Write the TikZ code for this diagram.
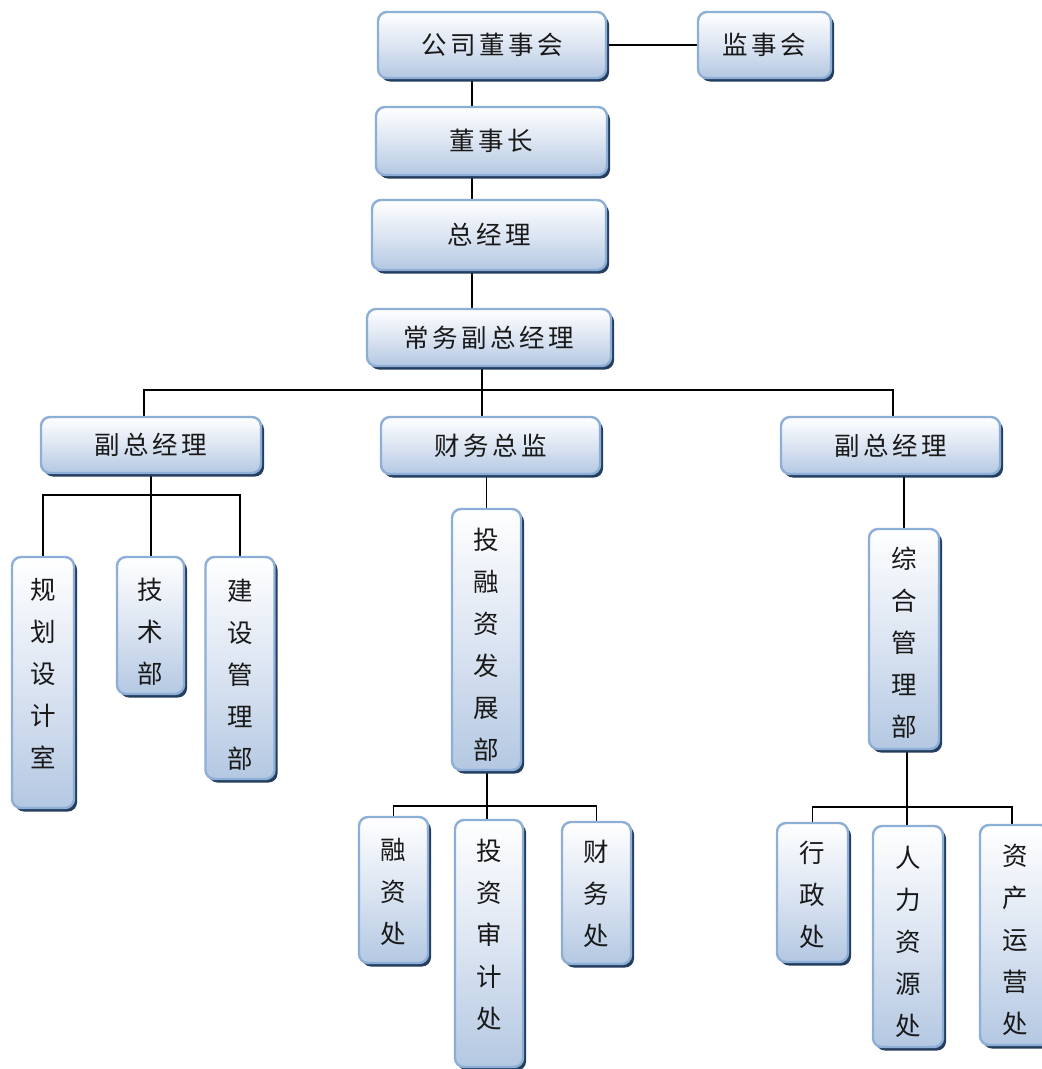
\documentclass[tikz,border=0pt]{standalone}
\usepackage{fontspec}
\setmainfont{Noto Sans CJK SC}
\usetikzlibrary{shadows}
\pgfdeclarelayer{background}
\pgfsetlayers{background,main}

\definecolor{boxedge}{RGB}{141,174,215}
\definecolor{boxlow}{RGB}{180,200,226}
\definecolor{boxmid}{RGB}{220,229,242}
\definecolor{boxshade}{RGB}{36,62,95}
\definecolor{inkc}{RGB}{25,25,25}

% spaced characters for horizontal labels
\newcommand\gp{\hspace{3.5pt}}
% vertical label; the optional length moves the characters up (negative: down)
% while the box keeps its natural extent, so the node stays centred
\newcommand\vlab[2][0pt]{\raisebox{#1}[\height][\depth]{\begin{tabular}{@{}c@{}}#2\end{tabular}}}

\tikzset{
  orgbox/.style={
    draw=boxedge, line width=2.4pt, rounded corners=9pt,
    top color=white, bottom color=boxlow, middle color=boxmid,
    drop shadow={shadow xshift=3pt, shadow yshift=-3.5pt, fill=boxshade, opacity=1},
    inner sep=0pt, text=inkc, align=center,
    font=\fontsize{25.5}{42}\selectfont
  },
  link/.style={line width=1.7pt, black}
}

\begin{document}
\begin{tikzpicture}[x=1pt, y=-1pt]
\useasboundingbox (0,0) rectangle (1042,1069);

% upper chain
\node[orgbox, minimum width=228pt, minimum height=66pt] (board) at (492,45) {公\gp 司\gp 董\gp 事\gp 会};
\node[orgbox, minimum width=133pt, minimum height=66pt] (super) at (764.5,45) {监\gp 事\gp 会};
\node[orgbox, minimum width=231pt, minimum height=68pt] (chair) at (491.5,141) {董\gp 事\gp 长};
\node[orgbox, minimum width=234pt, minimum height=70pt] (gm) at (489,235) {总\gp 经\gp 理};
\node[orgbox, minimum width=244pt, minimum height=57pt] (exec) at (489,337.5) {常\gp 务\gp 副\gp 总\gp 经\gp 理};

% second level
\node[orgbox, minimum width=220pt, minimum height=56pt] (vpl) at (151,445) {副\gp 总\gp 经\gp 理};
\node[orgbox, minimum width=219pt, minimum height=57pt] (cfo) at (490.5,445.5) {财\gp 务\gp 总\gp 监};
\node[orgbox, minimum width=219pt, minimum height=57pt] (vpr) at (890.5,445.5) {副\gp 总\gp 经\gp 理};

% departments
\node[orgbox, minimum width=62pt, minimum height=251pt] (plan) at (43,682.5) {\vlab[7pt]{规\\划\\设\\计\\室}};
\node[orgbox, minimum width=67pt, minimum height=137pt] (tech) at (150.5,625.5) {\vlab[-8pt]{技\\术\\部}};
\node[orgbox, minimum width=69pt, minimum height=222pt] (build) at (240,668) {\vlab[-8pt]{建\\设\\管\\理\\部}};
\node[orgbox, minimum width=69pt, minimum height=261pt] (invdev) at (486.5,639.5) {\vlab[-7pt]{投\\融\\资\\发\\展\\部}};
\node[orgbox, minimum width=70pt, minimum height=220pt] (admin) at (904,639) {\vlab[-5pt]{综\\合\\管\\理\\部}};

% offices
\node[orgbox, minimum width=69pt, minimum height=146pt] (fin) at (393.5,890) {\vlab[-3pt]{融\\资\\处}};
\node[orgbox, minimum width=68pt, minimum height=247pt] (audit) at (489,943.5) {\vlab[7pt]{投\\资\\审\\计\\处}};
\node[orgbox, minimum width=69pt, minimum height=142pt] (acct) at (596.5,893) {\vlab[-2pt]{财\\务\\处}};
\node[orgbox, minimum width=71pt, minimum height=139pt] (gov) at (812.5,892.5) {\vlab[-4pt]{行\\政\\处}};
\node[orgbox, minimum width=70pt, minimum height=221pt] (hr) at (908,936.5) {\vlab[-7pt]{人\\力\\资\\源\\处}};
\node[orgbox, minimum width=70pt, minimum height=220pt] (asset) at (1015,935) {\vlab[-6pt]{资\\产\\运\\营\\处}};

% connector guide points
\coordinate (spine) at (472,0);
\coordinate (busA) at (482,390);
\coordinate (dropL) at (144,0);
\coordinate (dropR) at (893,0);
\coordinate (busB) at (151,495);
\coordinate (busC) at (487,806);
\coordinate (busD) at (907,807);
\coordinate (dropE) at (1012,0);

\begin{pgfonlayer}{background}
  \draw[link] (board.east) -- (super.west);
  \draw[link] (board.south -| spine) -- (chair.north -| spine);
  \draw[link] (chair.south -| spine) -- (gm.north -| spine);
  \draw[link] (gm.south -| spine) -- (exec.north -| spine);

  \draw[link] (exec.south -| busA) -- (cfo.north -| busA);
  \draw[link] (vpl.north -| dropL) |- (busA) -| (vpr.north -| dropR);

  \draw[link] (vpl.south) -- (tech.north -| vpl.south);
  \draw[link] (plan.north) |- (busB) -| (build.north);

  \draw[link] (cfo.south -| invdev.north) -- (invdev.north);
  \draw[link] (invdev.south -| busC) -- (audit.north -| busC);
  \draw[link] (fin.north) |- (busC) -| (acct.north);

  \draw[link] (vpr.south -| admin.north) -- (admin.north);
  \draw[link] (admin.south -| busD) -- (hr.north -| busD);
  \draw[link] (gov.north) |- (busD) -| (asset.north -| dropE);
\end{pgfonlayer}
\end{tikzpicture}
\end{document}
